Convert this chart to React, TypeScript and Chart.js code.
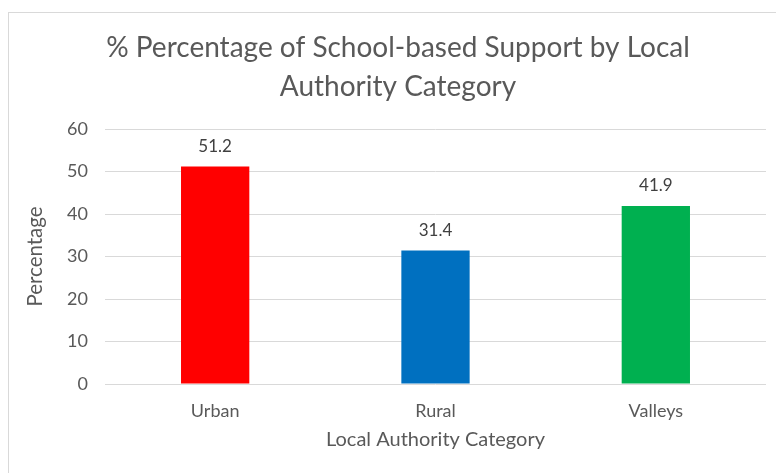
import React, { useEffect, useRef } from "react";
import { Chart, registerables } from "chart.js";

Chart.register(...registerables);

const categories = ["Urban", "Rural", "Valleys"];
const values = [51.2, 31.4, 41.9];
const barColors = ["#ff0000", "#0070c0", "#00b050"];
const titleLines = ["% Percentage of School-based Support by Local", "Authority Category"];
const yTitle = "Percentage";
const xTitle = "Local Authority Category";

const FONT = "Lato, 'Open Sans', sans-serif";

const valueLabels = {
  id: "valueLabels",
  afterDatasetsDraw(chart: any) {
    const ctx = chart.ctx;
    const meta = chart.getDatasetMeta(0);
    ctx.save();
    ctx.font = `17px ${FONT}`;
    ctx.fillStyle = "#404040";
    ctx.textAlign = "center";
    ctx.textBaseline = "middle";
    meta.data.forEach((bar: any, i: number) => {
      ctx.fillText(String(values[i]), bar.x, bar.y - 20);
    });
    ctx.restore();
  },
};

const chartTitle = {
  id: "chartTitle",
  afterDraw(chart: any) {
    const ctx = chart.ctx;
    ctx.save();
    ctx.font = `28px ${FONT}`;
    ctx.fillStyle = "#595959";
    ctx.textAlign = "center";
    ctx.textBaseline = "middle";
    titleLines.forEach((line, i) => {
      ctx.fillText(line, 398, 48 + i * 39);
    });
    ctx.restore();
  },
};

export default function App() {
  const ref = useRef<HTMLCanvasElement>(null);
  useEffect(() => {
    const chart = new Chart(ref.current!, {
      type: "bar",
      data: {
        labels: categories,
        datasets: [
          {
            data: values,
            backgroundColor: barColors,
            barPercentage: 0.31,
            categoryPercentage: 1,
          },
        ],
      },
      options: {
        responsive: false,
        animation: false,
        layout: { padding: { left: 0, right: 10, top: 129, bottom: 0 } },
        plugins: {
          legend: { display: false },
          tooltip: { enabled: false },
          title: { display: false },
        },
        scales: {
          x: {
            grid: { display: false, drawTicks: false },
            border: { display: false },
            ticks: { color: "#595959", font: { family: FONT, size: 18 }, padding: 16 },
            title: {
              display: true,
              text: xTitle,
              color: "#595959",
              font: { family: FONT, size: 20 },
              padding: { top: 0, bottom: 21 },
            },
            afterFit(scale: any) {
              scale.height = 89;
            },
          },
          y: {
            min: 0,
            max: 60,
            grid: { color: "#d9d9d9", drawTicks: false },
            border: { display: false },
            ticks: { stepSize: 10, color: "#595959", font: { family: FONT, size: 18 }, padding: 17 },
            title: {
              display: true,
              text: yTitle,
              color: "#595959",
              font: { family: FONT, size: 20.5 },
              padding: { top: 22.7, bottom: 0 },
            },
            afterFit(scale: any) {
              scale.width = 105;
            },
          },
        },
      },
      plugins: [valueLabels, chartTitle],
    });
    return () => chart.destroy();
  }, []);

  return (
    <div
      style={{
        position: "fixed",
        left: 0,
        top: 0,
        width: 776,
        height: 473,
        background: "#ffffff",
        overflow: "hidden",
      }}
    >
      <div
        style={{
          position: "absolute",
          left: 8,
          top: 12,
          width: 800,
          height: 500,
          border: "1px solid #d9d9d9",
        }}
      />
      <canvas
        ref={ref}
        width={776}
        height={473}
        style={{ position: "absolute", left: 0, top: 0 }}
      />
    </div>
  );
}
